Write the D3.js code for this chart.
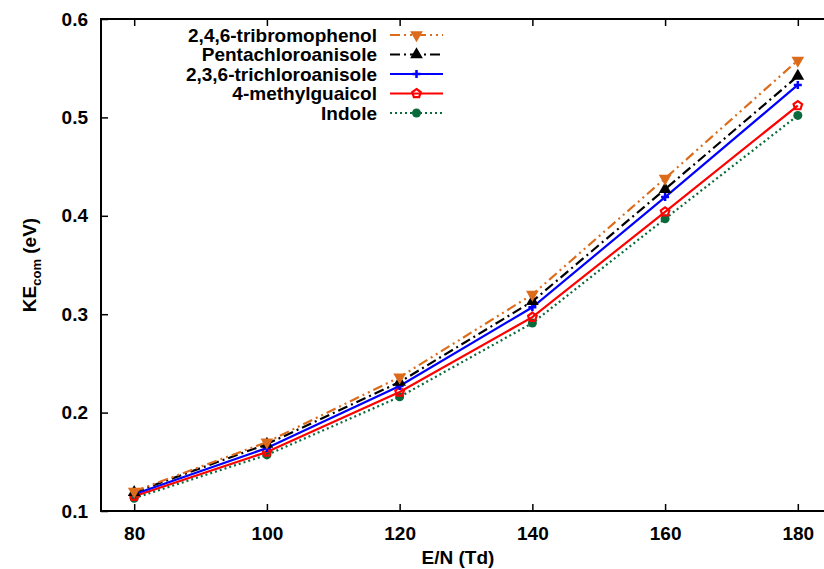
<!DOCTYPE html>
<html>
<head>
<meta charset="utf-8">
<script src="https://cdn.jsdelivr.net/npm/d3@7"></script>
<style>
  body { margin: 0; background: #fff; }
  svg text { font-family: "Liberation Sans", Arial, sans-serif; font-weight: bold; }
</style>
</head>
<body>
<div id="chart"></div>
<script>
// E/N values (Td)
const fields = [80, 100, 120, 140, 160, 180];

// KE_com (eV)
const tribromophenol   = [0.120, 0.170, 0.236, 0.320, 0.438, 0.558];
const pentachloro      = [0.119, 0.168, 0.231, 0.313, 0.427, 0.542];
const trichloro        = [0.117, 0.164, 0.227, 0.307, 0.419, 0.533];
const methylguaicol    = [0.115, 0.160, 0.221, 0.297, 0.404, 0.512];
const indole           = [0.113, 0.157, 0.216, 0.291, 0.397, 0.502];

const xTicks = [80, 100, 120, 140, 160, 180];
const yTicks = [0.1, 0.2, 0.3, 0.4, 0.5, 0.6];

const series = [
  { name: "2,4,6-tribromophenol", vals: tribromophenol, color: "#dc6c1c", dash: "10,4,2,4,2,4", mark: "tri-down" },
  { name: "Pentachloroanisole", vals: pentachloro, color: "#000000", dash: "10,4,2,4", mark: "tri-up" },
  { name: "2,3,6-trichloroanisole", vals: trichloro, color: "#0000ff", dash: null, mark: "plus" },
  { name: "4-methylguaicol", vals: methylguaicol, color: "#ff0000", dash: null, mark: "pentagon" },
  { name: "Indole", vals: indole, color: "#0b6a3c", dash: "2,3", mark: "circle" }
];

const W = 824, H = 569;
const m = { left: 101, top: 19, bottom: 511, right: 831 };
const FS = 19;

const svg = d3.select("#chart").append("svg").attr("width", W).attr("height", H);

const x = d3.scaleLinear().domain([75, 185]).range([m.left, m.right]);
const y = d3.scaleLinear().domain([0.1, 0.6]).range([m.bottom, m.top]);

// frame
svg.append("rect")
  .attr("x", m.left).attr("y", m.top)
  .attr("width", m.right - m.left).attr("height", m.bottom - m.top)
  .attr("fill", "none").attr("stroke", "#000").attr("stroke-width", 2);

// axes (inward ticks, mirrored)
const gx = svg.append("g").attr("transform", `translate(0,${m.bottom})`)
  .call(d3.axisBottom(x).tickValues(xTicks).tickSizeInner(-7).tickSizeOuter(0).tickPadding(16));
const gxt = svg.append("g").attr("transform", `translate(0,${m.top})`)
  .call(d3.axisTop(x).tickValues(xTicks).tickSizeInner(-7).tickSizeOuter(0).tickFormat(""));
const gy = svg.append("g").attr("transform", `translate(${m.left},0)`)
  .call(d3.axisLeft(y).tickValues(yTicks).tickSizeInner(-7).tickSizeOuter(0).tickPadding(13).tickFormat(d3.format(".1f")));

[gx, gxt, gy].forEach(g => {
  g.select(".domain").remove();
  g.selectAll(".tick line").attr("stroke", "#000").attr("stroke-width", 1.5);
  g.selectAll("text").attr("font-size", FS).attr("fill", "#000");
});

// axis labels
svg.append("text")
  .attr("x", 458).attr("y", 564)
  .attr("text-anchor", "middle").attr("font-size", FS)
  .text("E/N (Td)");

const yl = svg.append("text")
  .attr("transform", `translate(36,${(m.top + m.bottom) / 2}) rotate(-90)`)
  .attr("text-anchor", "middle").attr("font-size", FS);
yl.append("tspan").text("KE");
yl.append("tspan").attr("font-size", 13).attr("dy", 5).text("com");
yl.append("tspan").attr("dy", -5).text(" (eV)");

// marker drawing
function marker(g, type, color) {
  const s = d3.symbol();
  if (type === "tri-down") {
    g.append("path").attr("d", s.type(d3.symbolTriangle).size(70)()).attr("transform", "rotate(180)")
      .attr("fill", color);
  } else if (type === "tri-up") {
    g.append("path").attr("d", s.type(d3.symbolTriangle).size(70)()).attr("fill", color);
  } else if (type === "plus") {
    g.append("path").attr("d", "M-4,0H4M0,-4V4").attr("stroke", color).attr("stroke-width", 2.5);
  } else if (type === "pentagon") {
    const pts = d3.range(5).map(i => {
      const a = -Math.PI / 2 + i * 2 * Math.PI / 5;
      return [4.5 * Math.cos(a), 4.5 * Math.sin(a)];
    });
    g.append("path").attr("d", "M" + pts.join("L") + "Z")
      .attr("fill", "none").attr("stroke", color).attr("stroke-width", 2.2);
  } else if (type === "circle") {
    g.append("circle").attr("r", 4.5).attr("fill", color);
  }
}

const line = d3.line().x(d => x(d[0])).y(d => y(d[1]));

const plot = svg.append("g");
series.slice().reverse().forEach(s => {
  const pts = fields.map((f, i) => [f, s.vals[i]]);
  plot.append("path")
    .attr("d", line(pts))
    .attr("fill", "none")
    .attr("stroke", s.color)
    .attr("stroke-width", 2.2)
    .attr("stroke-dasharray", s.dash);
  pts.forEach(p => {
    const g = plot.append("g").attr("transform", `translate(${x(p[0])},${y(p[1])})`);
    marker(g, s.mark, s.color);
  });
});

// legend
const leg = svg.append("g");
series.forEach((s, i) => {
  const ly = 35 + i * 19.5;
  leg.append("text")
    .attr("x", 377).attr("y", ly).attr("dy", "0.35em")
    .attr("text-anchor", "end").attr("font-size", FS)
    .text(s.name);
  leg.append("line")
    .attr("x1", 390).attr("x2", 443).attr("y1", ly).attr("y2", ly)
    .attr("stroke", s.color).attr("stroke-width", 2.2)
    .attr("stroke-dasharray", s.dash);
  const g = leg.append("g").attr("transform", `translate(416.5,${ly})`);
  marker(g, s.mark, s.color);
});
</script>
</body>
</html>
